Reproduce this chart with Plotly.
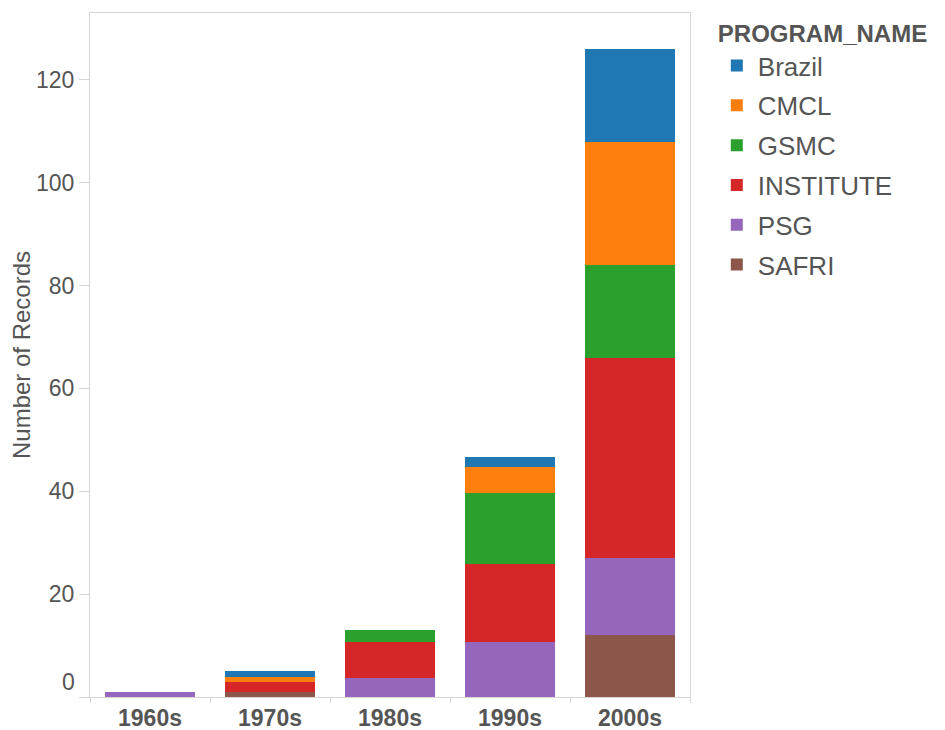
import plotly.graph_objects as go

decades = ["1960s", "1970s", "1980s", "1990s", "2000s"]
# stacked bottom -> top
programs = ["SAFRI", "PSG", "INSTITUTE", "GSMC", "CMCL", "Brazil"]
colors = ["#8c564b", "#9467bd", "#d62728", "#2ca02c", "#ff7f0e", "#1f77b4"]
safri = [0, 1, 0, 0, 12]
psg = [1, 0, 3.6, 10.6, 15]
institute = [0, 2, 7, 15.2, 39]
gsmc = [0, 0, 2.4, 13.8, 18]
cmcl = [0, 0.8, 0, 5.1, 24]
brazil = [0, 1.2, 0, 1.9, 18]
series = [safri, psg, institute, gsmc, cmcl, brazil]
y_ticks = [0, 20, 40, 60, 80, 100, 120]

FONT = "Liberation Sans, Arial, sans-serif"
GRAY = "#555555"
LINE = "#d6d6d6"

fig = go.Figure()
n = len(programs)
for i, (name, vals, col) in enumerate(zip(programs, series, colors)):
    fig.add_trace(go.Bar(
        x=decades, y=vals, name=name, marker=dict(color=col, line=dict(width=0)),
        legendgroup=name, legendrank=n - i,
    ))

# page body has an 8px margin, so the figure is 8px smaller and margins shifted
fig.update_layout(
    width=937, height=722,
    barmode="stack", bargap=0.25,
    plot_bgcolor="white", paper_bgcolor="white",
    margin=dict(l=82, r=255, t=5, b=33, autoexpand=False),
    font=dict(family=FONT, color=GRAY, size=24),
    legend=dict(
        title=dict(text="<b>PROGRAM_NAME</b>", font=dict(size=24, color=GRAY)),
        traceorder="grouped", tracegroupgap=3,
        x=1.043, xanchor="left", y=1.003, yanchor="top",
        font=dict(size=26, color=GRAY), itemwidth=32,
    ),
    showlegend=True,
)
fig.update_xaxes(
    type="category", categoryorder="array", categoryarray=decades,
    showline=True, mirror=True, linecolor=LINE, linewidth=1,
    ticks="outside", tickson="boundaries", ticklen=5, tickcolor=LINE,
    tickfont=dict(size=23, color=GRAY, family=FONT, weight="bold"),
    showgrid=False, automargin=False,
)
fig.update_yaxes(
    range=[0, 133], showline=True, mirror=True, linecolor=LINE, linewidth=1,
    ticks="outside", ticklen=10, tickcolor=LINE,
    tickvals=y_ticks, ticktext=["" if v == 0 else str(v) for v in y_ticks],
    tickfont=dict(size=23, color=GRAY),
    showgrid=False, zeroline=False, automargin=False,
    title=dict(text="Number of Records", font=dict(size=24, color=GRAY), standoff=4),
)
fig.add_annotation(
    x=0, xref="paper", xanchor="right", xshift=-13,
    y=0, yref="y", yshift=15, text=str(y_ticks[0]), showarrow=False,
    font=dict(size=23, color=GRAY),
)
fig.write_html("out.html")
